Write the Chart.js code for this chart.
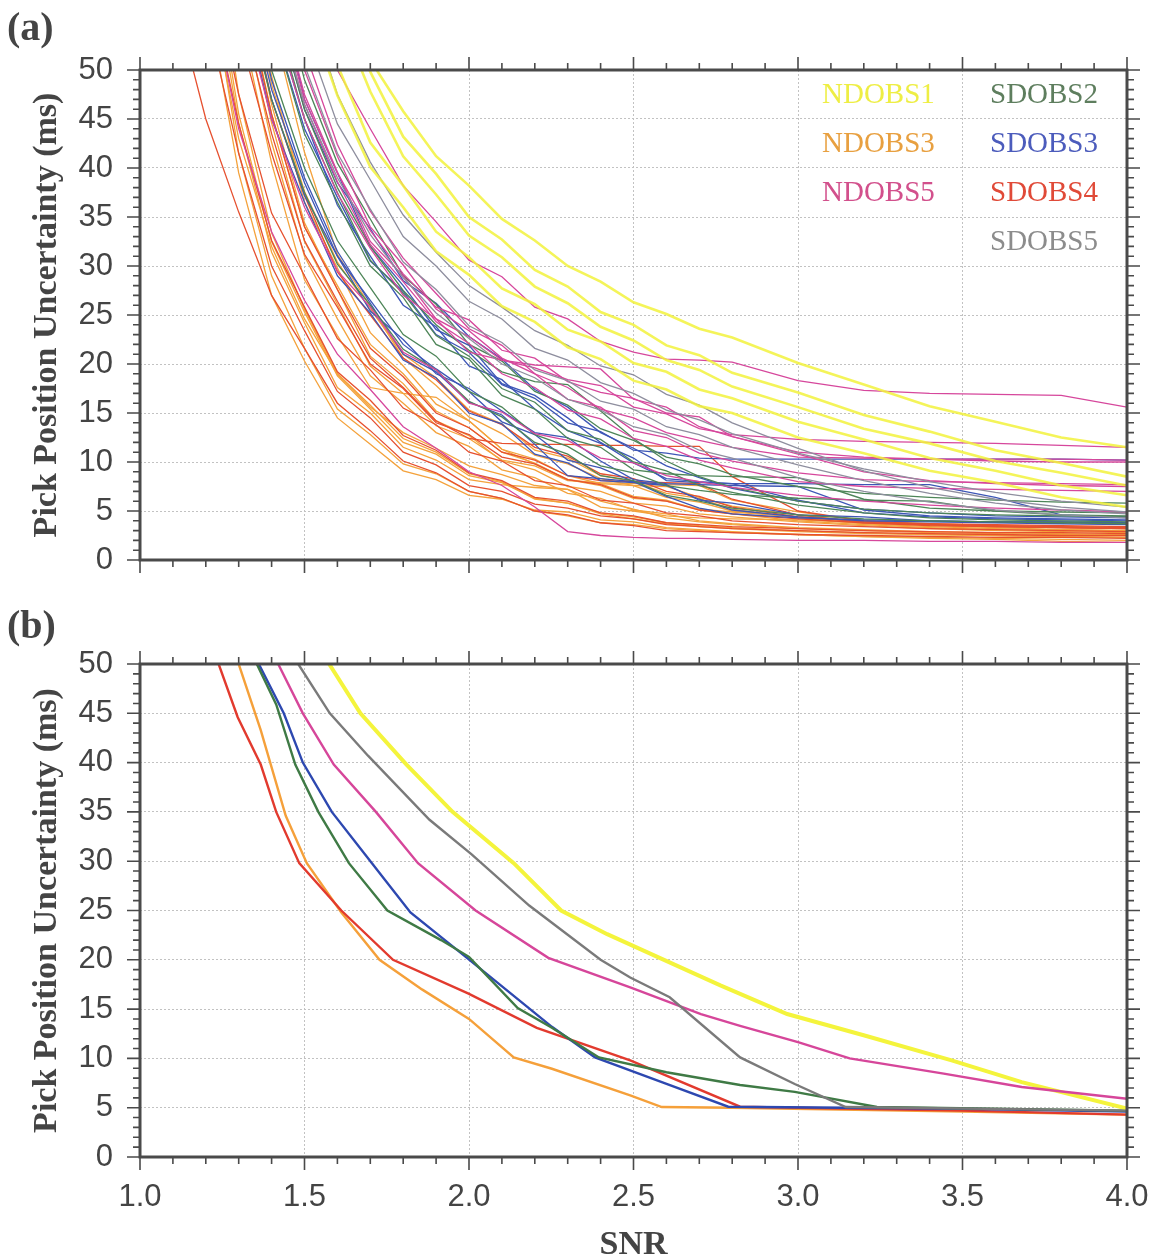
<!DOCTYPE html>
<html>
<head>
<meta charset="utf-8">
<script src="https://cdn.jsdelivr.net/npm/chart.js@4.4.0/dist/chart.umd.min.js"></script>
<style>
  body { margin:0; background:#fff; width:1165px; height:1260px; overflow:hidden; }
  canvas { position:absolute; left:0; }
  #chartA { top:0; }
  #chartB { top:590px; }
</style>
</head>
<body>
<canvas id="chartA" width="1165" height="590"></canvas>
<canvas id="chartB" width="1165" height="670"></canvas>
<script>
// --- dados ---
const stationNames = ["NDOBS1","NDOBS3","NDOBS5","SDOBS2","SDOBS3","SDOBS4","SDOBS5"];
const legendColors = ["#eeee44","#e8a040","#d2508c","#5e7e5e","#4c5cbc","#e04a38","#8c8c8c"];
const lineColorsA  = ["rgba(242,242,60,0.85)","#f4a23c","#d6479c","#4d8558","#3d56b6","#e6502f","#8e8e9e"];
const lineColorsB  = ["#f4f43c","#f5a03a","#d6469a","#3f7a45","#2d48b0","#e23a2e","#7a7a7a"];

const xTicks = [1.0,1.5,2.0,2.5,3.0,3.5,4.0];
const yTicks = [0,5,10,15,20,25,30,35,40,45,50];

// (a) todas as curvas, valores em snrGrid
const snrGrid = [1.1,1.2,1.3,1.4,1.5,1.6,1.7,1.8,1.9,2.0,2.1,2.2,2.3,2.4,2.5,2.6,2.7,2.8,3.0,3.2,3.4,3.6,3.8,4.0];

const linesNDOBS1 = [
  [null,null,null,null,null,60,51,45.8,41.2,38.2,34.8,32.6,30.0,28.4,26.3,25.1,23.6,22.7,20.1,17.9,15.7,14.1,12.5,11.5],
  [null,null,null,null,null,56,47.8,41.2,37.3,33.1,30.9,27.9,26.2,23.8,22.4,20.4,19.4,17.7,15.6,13.4,11.9,10.1,8.9,7.6],
  [null,null,null,null,60,50.5,42.6,38.2,33.5,30.9,27.7,26.1,23.5,22.3,20.1,19.2,17.4,16.5,14.1,12.3,10.4,9.1,7.6,6.6],
  [null,null,null,null,57,47.4,40.1,36.0,31.5,29.1,25.9,24.3,21.7,20.5,18.3,17.4,15.7,15.0,12.5,10.9,9.1,7.9,6.4,5.4],
  [null,null,null,null,null,58,49.8,43.2,39.4,35.0,32.7,29.6,27.9,25.3,24.0,21.9,20.9,19.1,17.1,14.8,13.1,11.2,9.9,8.5]
];
const linesSDOBS5 = [
  [null,null,null,null,58,47.5,40.6,35.2,31.4,28.0,25.8,23.4,21.9,19.8,18.9,16.9,15.8,14.0,11.4,9.1,7.4,6.2,5.4,4.9],
  [null,null,null,64,50.5,41.5,35.8,30.4,27.6,23.9,22.2,19.4,18.3,16.2,15.4,13.6,12.8,11.5,9.7,8.1,6.8,5.8,5.1,4.7],
  [null,null,null,null,54,44.5,38.8,33.0,30.0,26.4,24.6,21.6,20.4,18.1,17.0,15.3,14.3,12.9,10.9,9.3,8.0,6.9,6.0,5.4],
  [null,null,null,58,46.5,39.0,33.2,28.8,25.2,22.6,20.0,18.6,16.4,15.3,13.6,12.8,11.2,10.4,8.4,7.0,5.9,5.1,4.6,4.3]
];
const linesNDOBS5 = [
  [null,null,null,null,60,50,44,38.2,34.5,30.6,28.9,25.8,24.6,22.3,21.2,20.5,20.4,20.2,18.3,17.3,17.0,16.9,16.8,15.6],
  [null,null,null,60,47.5,39.6,32.5,29.0,24.6,22.8,20.4,19.6,18.4,17.8,15.6,14.9,13.4,12.8,12.3,12.1,12.0,11.9,11.7,11.5],
  [null,null,null,56,45,37.4,31.8,27.0,24.6,21.2,20.4,19.9,19.7,19.5,16.4,15.6,13.6,12.6,11.0,10.5,10.3,10.1,10.0,10.0],
  [null,null,null,62,50,41.2,34.0,30.1,25.6,23.4,20.6,19.0,16.4,15.6,13.2,12.5,10.9,10.1,8.9,8.2,8.0,7.9,7.8,7.7],
  [null,null,58,45,36,29.5,25.8,21.2,19.4,16.0,15.1,12.9,12.2,10.4,9.9,8.6,8.0,7.4,6.6,6.0,5.6,5.3,5.1,4.9],
  [null,null,null,58,46.5,38.6,32.2,28.4,24.3,22.1,19.0,17.6,15.3,14.4,12.4,11.6,10.2,9.4,8.0,7.5,7.3,7.2,7.1,7.0],
  [null,60,44,33.5,26.5,21.0,17.4,13.6,11.4,9.0,7.6,5.4,2.9,2.5,2.3,2.2,2.2,2.1,2.0,2.0,1.9,1.9,1.8,1.8],
  [null,null,null,65,52,42.4,35.6,30.8,27.2,23.6,21.9,19.0,17.6,15.4,14.5,13.0,12.2,11.5,10.5,10.4,10.3,10.3,10.3,10.2],
  [null,null,null,59,47,39.5,33.6,29.2,25.8,24.5,21.4,20.6,18.2,17.1,16.5,15.0,14.6,12.6,10.8,9.0,8.1,7.8,7.6,7.5]
];
const linesSDOBS2 = [
  [null,null,null,57,45,37.5,30.6,27.2,22.9,20.8,17.5,16.1,13.2,12.3,10.0,9.1,7.6,6.9,5.6,4.8,4.3,4.1,4.0,3.9],
  [null,null,60,47,37.5,30.2,26.0,21.5,19.4,16.2,14.6,12.0,10.8,8.6,8.1,6.6,6.0,5.3,4.6,4.2,4.0,3.9,3.8,3.7],
  [null,null,null,62,49,40.5,34.8,29.0,26.1,22.0,20.3,17.2,15.8,13.4,12.2,10.5,9.8,8.7,7.5,6.8,6.4,6.1,5.9,5.8],
  [null,null,null,58,46,38.0,32.0,27.5,24.0,21.4,19.2,18.2,17.9,15.2,12.4,10.1,8.5,7.4,6.0,5.2,4.8,4.6,4.5,4.4],
  [null,null,65,50,40,32.6,27.8,23.0,20.8,17.2,15.6,12.8,11.6,9.6,8.9,7.6,7.1,6.7,6.3,6.1,6.0,5.0,4.6,4.5],
  [null,null,null,55,43.5,36.5,30.0,26.8,22.0,20.5,16.8,15.4,12.4,11.5,9.2,8.8,8.6,8.5,8.4,6.2,5.3,5.0,4.9,4.8]
];
const linesSDOBS3 = [
  [null,null,62,48,38.5,31,26.5,22,19.5,17.2,14.1,12.8,10.2,9.4,8.0,7.7,6.1,5.8,4.6,4.4,4.0,3.9,3.9,3.7],
  [null,null,null,55,44,37,30.5,27.4,23.0,21.2,17.9,16.5,14.0,13.1,11.2,10.9,10.4,10.3,10.3,10.3,10.3,10.3,10.3,10.2],
  [null,null,59,45,36.5,29,25.2,20.4,18.6,15.0,13.9,10.8,9.9,8.1,7.9,7.6,6.2,5.1,4.4,4.0,3.9,3.8,3.7,3.6],
  [null,null,null,61,47,39.5,32,28.0,23.5,21.9,18.0,16.8,14.5,12.0,9.9,8.3,8.0,7.8,6.1,4.8,4.4,4.2,4.1,4.0],
  [null,null,64,49,39,31.5,26.2,21.0,19.2,16.1,14.8,11.8,8.6,8.3,8.0,6.5,5.3,4.7,4.3,4.1,4.0,3.9,3.9,3.8],
  [null,null,null,58,46,38.5,33.8,28.5,26.2,22.8,20.5,17.4,15.6,13.0,11.4,9.6,8.4,7.3,6.0,5.2,4.8,4.5,4.4,4.3],
  [null,null,61,47,37.2,31.0,25.4,22.5,19.0,17.5,15.2,13.0,12.5,10.1,8.2,7.8,7.7,7.6,7.5,5.1,4.5,4.3,4.2,4.1],
  [null,null,null,56,45,36.2,31.0,26.0,23.8,19.8,18.4,15.4,13.2,11.9,10.4,8.1,7.9,7.8,7.8,7.7,7.7,6.4,4.6,4.4]
];
const linesSDOBS4 = [
  [58,45,35.5,27.0,21.6,16.0,13.2,10.1,8.9,7.0,6.3,5.0,4.6,3.8,3.5,3.0,2.9,2.8,2.6,2.5,2.4,2.3,2.3,2.2],
  [null,60,44.5,32.6,25.8,19.2,16.3,12.7,11.2,8.9,8.1,6.4,6.0,4.8,4.5,3.8,3.6,3.4,3.2,3.0,2.9,2.8,2.8,2.7],
  [null,null,57,43.5,32.6,26.4,20.6,17.6,14.2,12.4,11.9,11.8,11.8,11.7,11.7,11.6,11.6,8.5,5.0,4.0,3.6,3.4,3.3,3.2],
  [null,63,47.5,35.4,29.0,22.6,19.4,15.5,13.8,11.0,10.1,8.1,7.6,6.1,5.8,4.8,4.5,4.0,3.6,3.4,3.2,3.1,3.0,2.9],
  [null,null,60,45.5,34.0,27.6,21.6,18.7,15.0,13.5,11.0,10.2,8.6,8.1,8.0,7.9,7.8,6.2,4.6,3.8,3.5,3.4,3.3,3.2],
  [null,56,41.5,30.0,23.4,17.2,14.5,11.0,9.7,7.6,7.0,5.7,5.3,4.5,4.2,3.6,3.4,3.2,3.0,2.8,2.7,2.6,2.5,2.5],
  [null,null,54,41.5,31.2,25.8,20.0,17.5,14.0,12.8,10.5,9.8,8.2,7.7,6.4,6.0,5.1,4.7,4.2,3.8,3.6,3.5,3.4,3.3],
  [null,null,62,47,37.2,29.4,25.0,20.6,18.4,15.2,13.8,11.5,10.6,8.8,8.3,7.0,6.5,5.4,4.4,3.9,3.7,3.6,3.5,3.4]
];
const linesNDOBS3 = [
  [null,62,41.5,29.0,21.6,15.4,12.8,9.8,8.8,7.0,6.3,5.0,4.5,3.8,3.6,3.2,3.0,2.8,2.6,2.4,2.3,2.2,2.1,2.0],
  [null,70,47.5,33.4,25.6,19.0,15.8,12.4,11.0,8.8,8.0,6.2,5.8,4.7,4.2,3.7,3.4,3.2,2.9,2.7,2.6,2.5,2.4,2.3],
  [null,null,58,42.6,31.0,24.6,18.8,16.0,13.0,11.6,9.2,8.4,6.8,6.3,5.1,4.7,4.0,3.7,3.3,3.1,2.9,2.8,2.7,2.6],
  [null,64,44.6,31.4,24.2,17.6,15.0,11.5,10.2,8.2,7.7,7.4,7.2,6.0,5.2,4.3,3.9,3.6,3.2,3.0,2.8,2.7,2.6,2.5],
  [null,null,63,46.5,34.4,27.6,20.8,18.0,14.2,12.7,10.1,9.2,7.5,7.0,5.8,5.5,4.7,4.4,3.9,3.5,3.2,3.0,2.9,2.8],
  [null,null,56,40.5,28.6,22.9,17.6,17.0,16.6,14.2,11.3,9.8,8.2,7.8,7.6,7.5,6.4,5.5,4.6,3.9,3.5,3.3,3.1,3.0],
  [null,null,67,49.4,36.5,29.8,23.2,19.8,15.9,14.2,11.3,10.3,8.6,7.8,6.5,6.1,5.1,4.7,4.0,3.6,3.3,3.1,3.0,2.9],
  [null,58,39.5,27.0,20.3,14.5,11.8,9.1,8.2,6.6,6.2,5.1,4.9,4.1,3.9,3.3,3.1,2.9,2.6,2.4,2.2,2.1,1.9,1.8],
  [null,null,60,44.6,32.5,26.1,19.8,17.0,13.7,12.4,10.2,9.6,8.1,7.9,7.8,7.7,7.6,6.1,4.9,4.0,3.6,3.4,3.3,3.2],
  [null,null,null,55,41.6,31.2,25.9,20.6,17.8,14.6,12.9,10.7,9.8,8.3,7.6,6.4,5.9,5.0,4.4,3.9,3.6,3.4,3.3,3.2],
  [null,66,45.5,32.5,25.3,18.8,15.4,12.0,10.8,8.6,7.9,6.3,5.8,4.8,4.4,3.8,3.5,3.3,3.0,2.8,2.6,2.5,2.4,2.3],
  [null,null,61,45.5,34.0,28.0,22.0,19.0,15.2,13.5,11.0,9.9,8.2,7.6,6.3,6.0,5.2,4.9,4.4,4.0,3.7,3.5,3.4,3.3],
  [null,null,65,48.5,37.6,30.4,25.6,21.0,18.6,15.3,13.9,11.2,10.4,8.6,8.0,6.8,6.3,5.2,4.3,3.7,3.4,3.2,3.1,3.0],
  [null,60,43.0,32.0,24.6,19.0,15.6,13.0,11.4,9.6,8.7,7.6,7.2,5.4,5.0,4.5,4.3,4.2,4.1,3.8,3.6,3.5,3.4,3.3]
];

// (b) curvas medianas: [SNR, incerteza]
const medNDOBS1 = [[1.575,50],[1.67,45],[1.81,39.8],[1.95,35],[2.136,29.8],[2.28,25],[2.42,22.6],[2.586,20.1],[2.764,17.4],[2.967,14.5],[3.205,12.3],[3.467,9.8],[3.68,7.6],[4.0,4.9]];
const medNDOBS3 = [[1.30,50],[1.367,43.3],[1.443,34.6],[1.507,29.8],[1.612,24.8],[1.728,20],[1.857,17],[2.0,14],[2.136,10.1],[2.252,8.95],[2.49,6.25],[2.586,5.07],[2.8,5.0],[3.5,4.6],[4.0,4.3]];
const medNDOBS5 = [[1.42,50],[1.495,45],[1.589,39.8],[1.717,35],[1.845,29.8],[2.02,25],[2.241,20.2],[2.49,17.2],[2.705,14.5],[2.824,13.3],[3.0,11.65],[3.157,10],[3.443,8.45],[3.68,7.1],[4.0,5.9]];
const medSDOBS2 = [[1.355,50],[1.414,45.9],[1.472,39.8],[1.542,35],[1.635,29.8],[1.752,25],[1.915,22],[2.0,20.3],[2.148,15.1],[2.252,13.1],[2.395,10.1],[2.6,8.6],[2.824,7.3],[2.99,6.6],[3.24,5.07],[4.0,4.7]];
const medSDOBS3 = [[1.361,50],[1.437,45],[1.495,40],[1.583,35],[1.705,29.8],[1.822,24.8],[1.99,20.3],[2.252,13.2],[2.383,10.1],[2.586,7.6],[2.788,5.1],[3.5,4.9],[4.0,4.6]];
const medSDOBS4 = [[1.239,50],[1.297,44.6],[1.367,39.8],[1.414,35],[1.484,29.8],[1.612,25],[1.769,20],[1.997,16.6],[2.206,13.1],[2.49,9.8],[2.824,5.1],[3.5,4.7],[4.0,4.3]];
const medSDOBS5 = [[1.481,50],[1.577,45],[1.693,40.7],[1.88,34.2],[2.008,30.7],[2.183,25.5],[2.4,20],[2.49,18.2],[2.61,16.2],[2.824,10.1],[2.99,7.4],[3.145,5.07],[4.0,4.7]];

// --- desenho ---
const TICK_FONT = {family:"'Liberation Sans', Arial, sans-serif", size:31};
const TITLE_FONT = {family:"'Liberation Serif', 'Times New Roman', serif", size:34, weight:'bold', lineHeight:1.0};

// moldura, ticks menores/maiores, rótulo do painel e legenda
const decor = {
  id:'decor',
  afterDraw(chart, args, o) {
    const ctx = chart.ctx, a = chart.chartArea, xs = chart.scales.x, ys = chart.scales.y;
    ctx.save();
    ctx.strokeStyle = '#4a4a4a';
    ctx.lineWidth = 1.6;
    ctx.beginPath();
    for (let i = 0; i <= 30; i++) {
      const px = xs.getPixelForValue(1 + i/10);
      const len = i % 5 === 0 ? 13 : 7;
      ctx.moveTo(px, a.top); ctx.lineTo(px, a.top - len);
      ctx.moveTo(px, a.bottom); ctx.lineTo(px, a.bottom + len);
    }
    for (let v = 0; v <= 50; v++) {
      const py = ys.getPixelForValue(v);
      const len = v % 5 === 0 ? 13 : 7;
      ctx.moveTo(a.left, py); ctx.lineTo(a.left - len, py);
      ctx.moveTo(a.right, py); ctx.lineTo(a.right + len, py);
    }
    ctx.stroke();
    ctx.lineWidth = 3;
    ctx.strokeRect(a.left, a.top, a.right - a.left, a.bottom - a.top);

    ctx.fillStyle = '#444';
    ctx.font = "bold 40px 'Liberation Serif', serif";
    ctx.textBaseline = 'alphabetic';
    ctx.textAlign = 'left';
    ctx.fillText(o.label, 7, o.labelY);

    if (o.legend) {
      ctx.font = "29px 'Liberation Serif', serif";
      const nIdx = [0,1,2], sIdx = [3,4,5,6];
      nIdx.forEach((k, r) => { ctx.fillStyle = legendColors[k]; ctx.fillText(stationNames[k], 822, 103 + r*49); });
      sIdx.forEach((k, r) => { ctx.fillStyle = legendColors[k]; ctx.fillText(stationNames[k], 990, 103 + r*49); });
    }
    ctx.restore();
  }
};

function axes(showX, xHeight) {
  return {
    x: {
      type:'linear', min:1, max:4,
      afterBuildTicks: s => { s.ticks = xTicks.map(v => ({value:v})); },
      afterFit: s => { s.height = xHeight; s.paddingLeft = 0; s.paddingRight = 0; },
      grid: { drawTicks:false, lineWidth:1,
        color: c => (c.tick && (c.tick.value === 1 || c.tick.value === 4)) ? 'rgba(0,0,0,0)' : '#c2c2c2' },
      border: { display:false, dash:[2,2] },
      ticks: { display:showX, padding:22, color:'#444', font:TICK_FONT, maxRotation:0,
        callback: v => Number(v).toFixed(1) },
      title: { display:showX, text:'SNR', color:'#444', font:TITLE_FONT, padding:{top:0,bottom:-2} }
    },
    y: {
      type:'linear', min:0, max:50,
      afterBuildTicks: s => { s.ticks = yTicks.map(v => ({value:v})); },
      afterFit: s => { s.width = 140; s.paddingTop = 0; s.paddingBottom = 0; },
      grid: { drawTicks:false, lineWidth:1,
        color: c => (c.tick && (c.tick.value === 0 || c.tick.value === 50)) ? 'rgba(0,0,0,0)' : '#c2c2c2' },
      border: { display:false, dash:[2,2] },
      ticks: { padding:27, color:'#444', font:TICK_FONT },
      title: { display:true, text:'Pick Position Uncertainty (ms)', color:'#444', font:TITLE_FONT, padding:{top:30,bottom:0} }
    }
  };
}

const groupsA = [linesNDOBS1, linesNDOBS3, linesNDOBS5, linesSDOBS2, linesSDOBS3, linesSDOBS4, linesSDOBS5];
const drawOrderA = [0, 6, 2, 3, 4, 5, 1];
let dsA = [];
drawOrderA.forEach(k => {
  groupsA[k].forEach(vals => {
    dsA.push({
      data: snrGrid.map((x, i) => ({x:x, y:vals[i]})),
      borderColor: lineColorsA[k],
      borderWidth: k === 0 ? 2.6 : 1.3,
      pointRadius: 0, fill:false, tension:0, clip:0
    });
  });
});

new Chart(document.getElementById('chartA'), {
  type:'line',
  data:{ datasets: dsA },
  options:{
    responsive:false, animation:false, devicePixelRatio:1,
    layout:{ padding:{top:70, right:38, left:0, bottom:0} },
    plugins:{ legend:{display:false}, tooltip:{enabled:false},
      decor:{ label:'(a)', labelY:40, legend:true } },
    scales: axes(false, 30)
  },
  plugins:[decor]
});

const groupsB = [medNDOBS1, medNDOBS3, medNDOBS5, medSDOBS2, medSDOBS3, medSDOBS4, medSDOBS5];
const drawOrderB = [6, 2, 0, 3, 4, 5, 1];
let dsB = drawOrderB.map(k => ({
  data: groupsB[k].map(p => ({x:p[0], y:p[1]})),
  borderColor: lineColorsB[k],
  borderWidth: k === 0 ? 4 : 2.4,
  pointRadius:0, fill:false, tension:0, clip:0
}));

new Chart(document.getElementById('chartB'), {
  type:'line',
  data:{ datasets: dsB },
  options:{
    responsive:false, animation:false, devicePixelRatio:1,
    layout:{ padding:{top:74, right:38, left:0, bottom:0} },
    plugins:{ legend:{display:false}, tooltip:{enabled:false},
      decor:{ label:'(b)', labelY:48, legend:false } },
    scales: axes(true, 103)
  },
  plugins:[decor]
});
</script>
</body>
</html>
